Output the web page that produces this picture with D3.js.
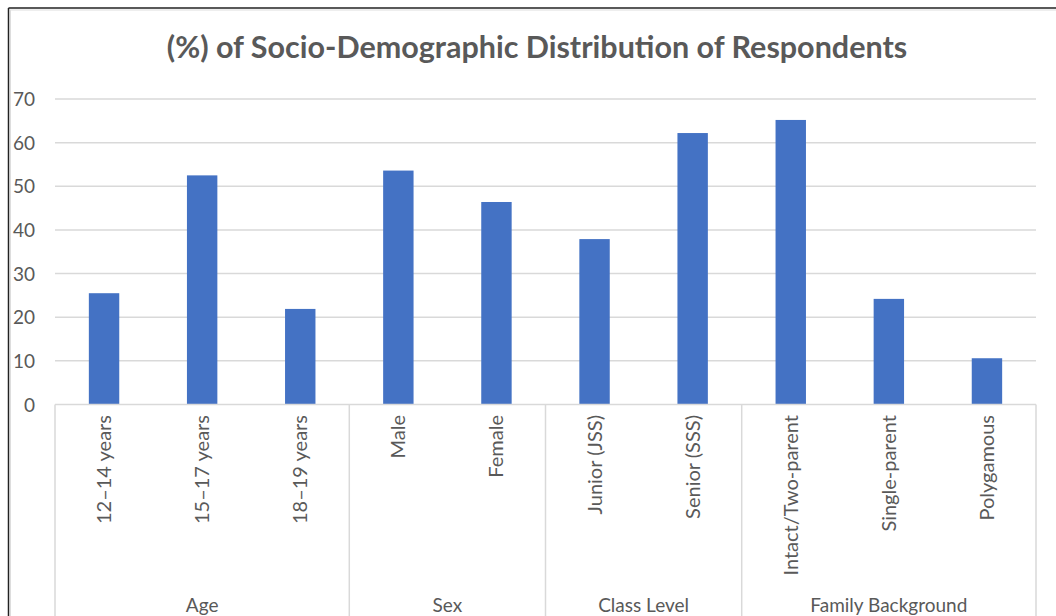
<!DOCTYPE html>
<meta charset="utf-8">
<style>
body { margin: 0; background: #fff; }
svg text { font-family: Lato, "Open Sans", sans-serif; fill: #595959; }
</style>
<body>
<svg width="1056" height="616"></svg>
<script src="https://d3js.org/d3.v7.min.js"></script>
<script>
// data
var groups = ["Age", "Sex", "Class Level", "Family Background"];
var categories = ["12\u201314 years", "15\u201317 years", "18\u201319 years", "Male", "Female",
                  "Junior (JSS)", "Senior (SSS)", "Intact/Two-parent", "Single-parent", "Polygamous"];
var categoryGroup = ["Age", "Age", "Age", "Sex", "Sex", "Class Level", "Class Level",
                     "Family Background", "Family Background", "Family Background"];
var values = [25.5, 52.5, 21.9, 53.6, 46.4, 37.9, 62.2, 65.2, 24.2, 10.6];
var yTicks = [0, 10, 20, 30, 40, 50, 60, 70];

var svg = d3.select("svg"),
    width = +svg.attr("width"),
    height = +svg.attr("height");

var plotLeft = 55, plotRight = 1036, plotTop = 99, plotBottom = 404.5;

// outer chart border
svg.append("line").attr("x1", 8.5).attr("x2", width).attr("y1", 8).attr("y2", 8)
   .attr("stroke", "#222").attr("stroke-width", 1.5);
svg.append("line").attr("x1", 8.5).attr("x2", 8.5).attr("y1", 8).attr("y2", height)
   .attr("stroke", "#222").attr("stroke-width", 1.5);
svg.append("line").attr("x1", 10).attr("x2", width).attr("y1", 10).attr("y2", 10)
   .attr("stroke", "#ddd").attr("stroke-width", 1);
svg.append("line").attr("x1", 10.5).attr("x2", 10.5).attr("y1", 10).attr("y2", height)
   .attr("stroke", "#ddd").attr("stroke-width", 1);

var x = d3.scaleBand().domain(categories).range([plotLeft, plotRight]);
var y = d3.scaleLinear().domain([0, 70]).range([plotBottom, plotTop]);

// title
svg.append("text")
    .attr("x", 537).attr("y", 58)
    .attr("text-anchor", "middle")
    .style("font-size", "30.5px").style("font-weight", "bold")
    .text("(%) of Socio-Demographic Distribution of Respondents");

// gridlines
svg.append("g").selectAll("line")
  .data(yTicks.filter(function(d) { return d > 0; }))
  .enter().append("line")
    .attr("x1", plotLeft).attr("x2", plotRight)
    .attr("y1", function(d) { return y(d); }).attr("y2", function(d) { return y(d); })
    .attr("stroke", "#d9d9d9").attr("stroke-width", 1.5);

// y axis labels
var yAxis = svg.append("g")
    .attr("transform", "translate(" + (plotLeft - 20) + ",0)")
    .call(d3.axisLeft(y).tickValues(yTicks).tickSize(0).tickPadding(0));
yAxis.select(".domain").remove();
yAxis.selectAll("text").style("font-size", "19px").style("fill", "#595959").attr("dy", "0.35em")
    .style("font-family", "Lato, sans-serif");

// bars
svg.append("g").selectAll("rect")
  .data(values)
  .enter().append("rect")
    .attr("x", function(d, i) { return x(categories[i]) + x.bandwidth() * 0.345; })
    .attr("width", x.bandwidth() * 0.31)
    .attr("y", function(d) { return y(d); })
    .attr("height", function(d) { return y(0) - y(d); })
    .attr("fill", "#4472c4");

// x axis line
svg.append("line").attr("x1", plotLeft).attr("x2", plotRight).attr("y1", plotBottom).attr("y2", plotBottom)
   .attr("stroke", "#d9d9d9").attr("stroke-width", 1.5);

// group separators
var bounds = [0];
groups.forEach(function(g) {
  bounds.push(bounds[bounds.length - 1] + categoryGroup.filter(function(c) { return c === g; }).length);
});
var edgeX = function(i) { return i < categories.length ? x(categories[i]) : plotRight; };
svg.append("g").selectAll("line")
  .data(bounds)
  .enter().append("line")
    .attr("x1", function(d) { return edgeX(d); }).attr("x2", function(d) { return edgeX(d); })
    .attr("y1", plotBottom).attr("y2", height)
    .attr("stroke", "#d9d9d9").attr("stroke-width", 1.5);

// category labels
svg.append("g").selectAll("text")
  .data(categories)
  .enter().append("text")
    .attr("transform", function(d) {
      return "translate(" + (x(d) + x.bandwidth() / 2) + ",415) rotate(-90)";
    })
    .attr("text-anchor", "end")
    .attr("dy", "0.35em")
    .style("font-size", "20px")
    .text(function(d) { return d; });

// group labels
svg.append("g").selectAll("text")
  .data(groups)
  .enter().append("text")
    .attr("x", function(d, i) { return (edgeX(bounds[i]) + edgeX(bounds[i + 1])) / 2; })
    .attr("y", 612)
    .attr("text-anchor", "middle")
    .style("font-size", "19px")
    .text(function(d) { return d; });
</script>
</body>
